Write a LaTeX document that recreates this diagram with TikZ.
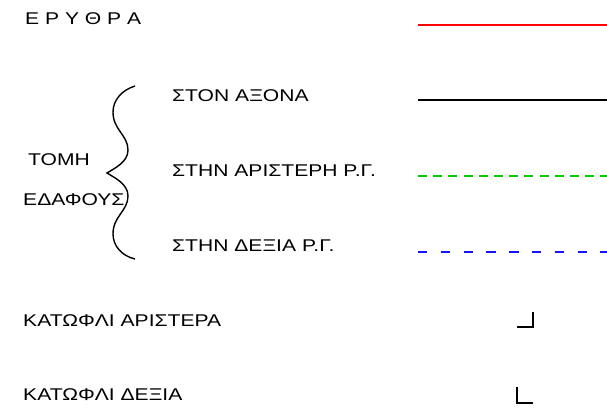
\documentclass[tikz,border=0pt]{standalone}
\usepackage{fontspec}
\setmainfont[FakeStretch=1.24]{Liberation Sans}
\definecolor{rggreen}{RGB}{0,204,0}
\definecolor{rgblue}{RGB}{20,20,255}

\begin{document}
\begin{tikzpicture}[x=1pt, y=-1pt,
    lbl/.style={anchor=base west, inner sep=0pt, font=\fontsize{17}{20}\selectfont},
    sample/.style={line width=2pt}]
  \useasboundingbox (0,0) rectangle (607,412);

  \node (erythra) [lbl] at (25,25) {Ε Ρ Υ Θ Ρ Α};
  \node (axis) [lbl] at (172,101) {ΣΤΟΝ ΑΞΟΝΑ};
  \node (leftrg) [lbl] at (172,176) {ΣΤΗΝ ΑΡΙΣΤΕΡΗ Ρ.Γ.};
  \node (rightrg) [lbl] at (172,251) {ΣΤΗΝ ΔΕΞΙΑ Ρ.Γ.};
  \node (tomi) [lbl] at (28,165) {ΤΟΜΗ};
  \node (edafous) [lbl] at (23,205) {ΕΔΑΦΟΥΣ};
  \node (sillleft) [lbl] at (23,326) {ΚΑΤΩΦΛΙ ΑΡΙΣΤΕΡΑ};
  \node (sillright) [lbl] at (23,400) {ΚΑΤΩΦΛΙ ΔΕΞΙΑ};

  \coordinate (red1) at (418,25);
  \coordinate (red2) at (607,25);
  \coordinate (axis1) at (418,100);
  \coordinate (axis2) at (607,100);
  \coordinate (left1) at (418,175.5);
  \coordinate (left2) at (607,175.5);
  \coordinate (right1) at (418,251.5);
  \coordinate (right2) at (607,251.5);

  \draw [sample, red] (red1) -- (red2);
  \draw [sample] (axis1) -- (axis2);
  \draw [sample, rggreen, dash pattern=on 9pt off 6.2pt] (left1) -- (left2);
  \draw [sample, rgblue, dash pattern=on 9.3pt off 13.5pt] (right1) -- (right2);

  \coordinate (brtop) at (135,86);
  \coordinate (brtip) at (107,173);
  \coordinate (brbot) at (135,259);
  \draw [line width=1.4pt] (brtop)
    .. controls (122,90) and (113,100) .. (113,112)
    .. controls (113,130) and (128,135) .. (128,150)
    .. controls (128,162) and (115,168) .. (brtip)
    .. controls (115,178) and (128,184) .. (128,196)
    .. controls (128,211) and (113,216) .. (113,234)
    .. controls (113,246) and (122,256) .. (brbot);

  \coordinate (sl1) at (517,327);
  \coordinate (sl2) at (533,327);
  \coordinate (sl3) at (533,312);
  \coordinate (sr1) at (517,387);
  \coordinate (sr2) at (517,403);
  \coordinate (sr3) at (533,403);
  \draw [sample] (sl1) -- (sl2) -- (sl3);
  \draw [sample] (sr1) -- (sr2) -- (sr3);
\end{tikzpicture}
\end{document}
